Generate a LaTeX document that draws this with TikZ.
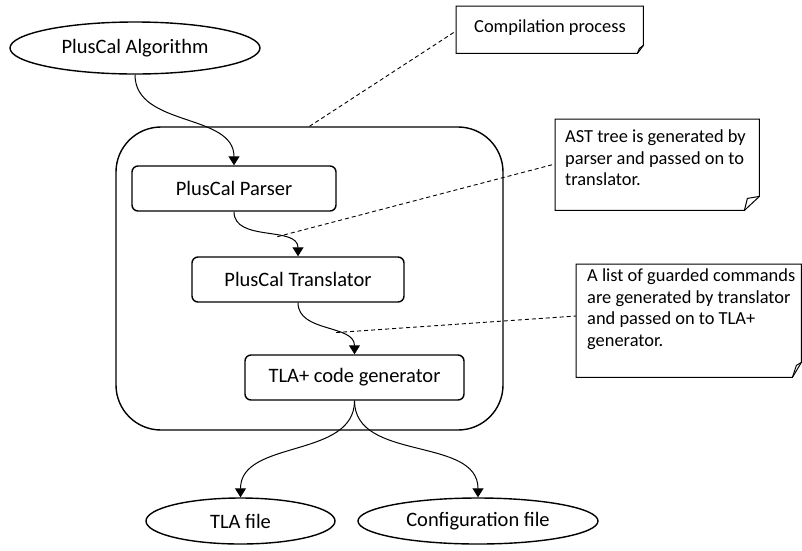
\documentclass[tikz,border=0pt]{standalone}
\usepackage{fontspec}
\setmainfont{Carlito}
\usetikzlibrary{shapes.geometric,arrows.meta,calc}
\begin{document}
\begin{tikzpicture}[x=1pt,y=-1pt,
  mainfont/.style={font=\fontsize{20.5}{24}\selectfont},
  notefont/.style={font=\fontsize{18.4}{21.5}\selectfont},
  ellnode/.style={ellipse,draw,line width=1.4pt,inner sep=0pt,mainfont},
  stagebox/.style={draw,line width=1.4pt,rounded corners=6pt,inner sep=0pt,mainfont},
  container/.style={draw,line width=1.4pt,rounded corners=45pt,inner sep=0pt},
  notebox/.style={draw=none,inner sep=0pt,anchor=north west},
  notetext/.style={inner sep=0pt,align=left,notefont},
  noteline/.style={line width=1pt},
  flow/.style={line width=1pt,-{Triangle[width=11pt,length=9pt]}},
  callout/.style={line width=0.9pt,dash pattern=on 4pt off 3pt}
]
\useasboundingbox (0,0) rectangle (802,550);

% main nodes
\node[ellnode,minimum width=250pt,minimum height=52pt] (alg) at (135,48) {PlusCal Algorithm};
\node[container,minimum width=387pt,minimum height=303pt] (cont) at (309.5,278.5) {};
\node[stagebox,minimum width=204pt,minimum height=45pt] (parser) at (234,188.5) {PlusCal Parser};
\node[stagebox,minimum width=212pt,minimum height=45pt] (trans) at (298,279.5) {PlusCal Translator};
\node[stagebox,minimum width=219pt,minimum height=45pt] (gen) at (354.5,377.5) {TLA+ code generator};
\node[ellnode,minimum width=189pt,minimum height=46pt] (tla) at (240.5,521) {TLA file};
\node[ellnode,minimum width=240pt,minimum height=46pt] (cfg) at (478,521) {Configuration file};

% notes
\node[notebox,minimum width=187pt,minimum height=47pt] (comp) at (456,6) {};
\node[notebox,minimum width=204pt,minimum height=91pt] (ast) at (555,119) {};
\node[notebox,minimum width=225pt,minimum height=113pt] (list) at (576,264) {};

\node[notetext,anchor=base] (comptext) at (550,32) {Compilation process};
\node[notetext,anchor=north west] (asttext) at (565,130) {AST tree is generated by\\parser and passed on to\\translator.};
\node[notetext,anchor=north west] (listtext) at (587,269) {A list of guarded commands\\are generated by translator\\and passed on to TLA+\\generator.};

\foreach \n/\fx/\fy/\ix/\iy in {comp/6/8/-4/-5, ast/15/14/-12/-12, list/9/15/-5/-12} {
  \draw[noteline] (\n.north west) -- (\n.north east) -- ($(\n.south east)+(0,-\fy)$)
     -- ($(\n.south east)+(-\fx,0)$) -- (\n.south west) -- cycle;
  \draw[noteline] ($(\n.south east)+(-\fx,0)$) -- ($(\n.south east)+(\ix,\iy)$) -- ($(\n.south east)+(0,-\fy)$);
}

% flow arrows
\draw[flow] (alg.south) to[out=-90,in=90] (parser.north);
\draw[flow] (parser.south) to[out=-90,in=90] coordinate[pos=0.62] (m1) (trans.north);
\draw[flow] (trans.south) to[out=-90,in=90] coordinate[pos=0.62] (m2) (gen.north);
\draw[flow] (gen.south) to[out=-90,in=90] (tla.north);
\draw[flow] (gen.south) to[out=-90,in=90] (cfg.north);

% callouts
\draw[callout] (cont.north) -- ($(comp.north west)+(0,25)$);
\draw[callout] (m1) -- ($(ast.north west)+(0,45)$);
\draw[callout] (m2) -- ($(list.north west)+(0,52)$);
\end{tikzpicture}
\end{document}
